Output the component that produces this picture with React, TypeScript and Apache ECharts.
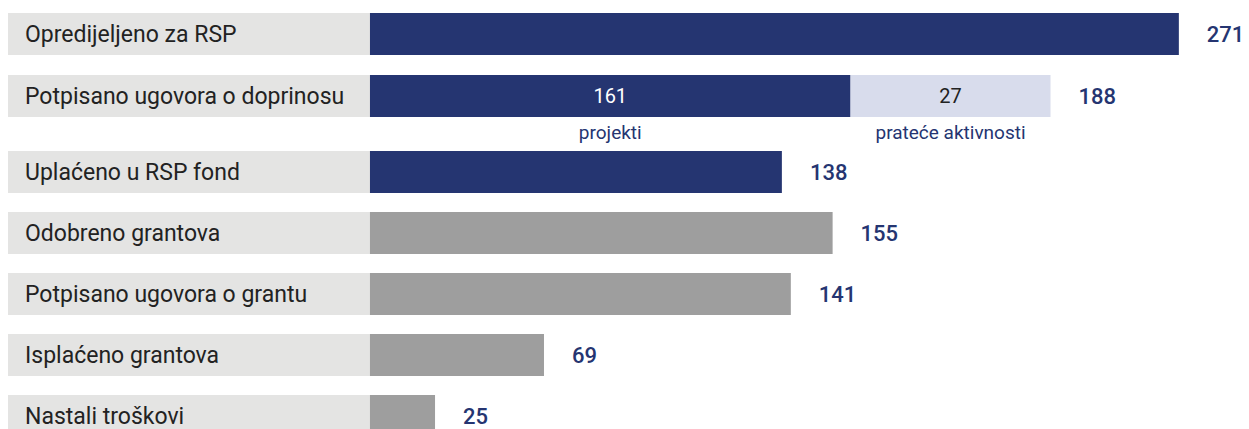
import React, { useEffect, useRef } from "react";
import * as echarts from "echarts";

// ---------- data ----------
const categories = [
  "Opredijeljeno za RSP",
  "Potpisano ugovora o doprinosu",
  "Uplaćeno u RSP fond",
  "Odobreno grantova",
  "Potpisano ugovora o grantu",
  "Isplaćeno grantova",
  "Nastali troškovi",
];
// numbers printed at the end of each row
const valueLabels = [271, 188, 138, 155, 141, 69, 25];
// bar lengths as drawn in the picture
const mainLength = [271, 161, 138, 155, 141, 58.3, 21.8];
const extraLength: (number | null)[] = [null, 67, null, null, null, null, null];
// split row (contribution contracts)
const splitRow = 1;
const splitValues = [161, 27];
const splitNames = ["projekti", "prateće aktivnosti"];
const rowGroup = ["rsp", "rsp", "rsp", "grant", "grant", "grant", "grant"];

// ---------- styles ----------
const NAVY = "#253571";
const GRAY = "#9e9e9e";
const LIGHT = "#d8dcec";
const BG = "#e4e4e3";
const FONT = "Roboto, 'Noto Sans', sans-serif";
const groupColor: Record<string, string> = { rsp: NAVY, grant: GRAY };
const LABEL_SPAN = -121.27; // grey label stripe, in axis units left of zero
const X_MIN = -121.27;
const X_MAX = 294.5;

const gridRows: [number, number][] = [
  [0, 2],
  [2, 7],
];
const gridPos = [
  { top: 3, height: 124 },
  { top: 141.5, height: 305 },
];

function range(s: number, e: number) {
  const r: number[] = [];
  for (let i = s; i < e; i++) r.push(i);
  return r;
}

function seriesFor(g: number, s: number, e: number) {
  const idx = range(s, e);
  const common = {
    type: "bar",
    xAxisIndex: g,
    yAxisIndex: g,
    barWidth: 42,
    barGap: "-100%",
    silent: true,
  };
  return [
    {
      ...common,
      name: "bg" + g,
      data: idx.map(() => LABEL_SPAN),
      itemStyle: { color: BG },
      z: 1,
    },
    {
      ...common,
      name: "main" + g,
      stack: "v" + g,
      z: 2,
      data: idx.map((i) => ({
        value: mainLength[i],
        itemStyle: { color: groupColor[rowGroup[i]] },
        label:
          i === splitRow
            ? {
                show: true,
                position: "inside",
                formatter: String(splitValues[0]),
                color: "#ffffff",
                fontSize: 20,
                fontFamily: FONT,
              }
            : { show: false },
      })),
    },
    {
      ...common,
      name: "extra" + g,
      stack: "v" + g,
      z: 2,
      itemStyle: { color: LIGHT },
      data: idx.map((i) =>
        extraLength[i] == null
          ? null
          : {
              value: extraLength[i],
              label: {
                show: true,
                position: "inside",
                formatter: String(splitValues[1]),
                color: "#222222",
                fontSize: 20,
                fontFamily: FONT,
              },
            }
      ),
    },
    {
      ...common,
      name: "subA" + g,
      stack: "s" + g,
      z: 3,
      itemStyle: { color: "transparent" },
      data: idx.map((i) => (i === splitRow ? mainLength[i] : null)),
      label: {
        show: true,
        position: "bottom",
        distance: 6,
        formatter: splitNames[0],
        color: NAVY,
        fontSize: 19,
        fontFamily: FONT,
      },
    },
    {
      ...common,
      name: "subB" + g,
      stack: "s" + g,
      z: 3,
      itemStyle: { color: "transparent" },
      data: idx.map((i) => (i === splitRow ? extraLength[i] : null)),
      label: {
        show: true,
        position: "bottom",
        distance: 6,
        formatter: splitNames[1],
        color: NAVY,
        fontSize: 19,
        fontFamily: FONT,
      },
    },
    {
      ...common,
      name: "total" + g,
      z: 3,
      itemStyle: { color: "transparent" },
      data: idx.map((i) => mainLength[i] + (extraLength[i] ?? 0)),
      label: {
        show: true,
        position: "right",
        distance: 28,
        formatter: (p: any) => String(valueLabels[s + p.dataIndex]),
        color: NAVY,
        fontSize: 22,
        fontWeight: 500,
        fontFamily: FONT,
      },
    },
  ];
}

export default function App() {
  const ref = useRef<HTMLDivElement>(null);
  useEffect(() => {
    if (!ref.current) return;
    const chart = echarts.init(ref.current, undefined, { renderer: "svg" });
    const option = {
      animation: false,
      grid: gridPos.map((p) => ({ left: 8, right: 0, top: p.top, height: p.height })),
      xAxis: gridRows.map((_, g) => ({
        type: "value",
        gridIndex: g,
        min: X_MIN,
        max: X_MAX,
        show: false,
        splitLine: { show: false },
      })),
      yAxis: gridRows.map(([s, e], g) => ({
        type: "category",
        gridIndex: g,
        data: categories.slice(s, e),
        inverse: true,
        z: 10,
        axisLine: { show: false, onZero: false },
        axisTick: { show: false },
        splitLine: { show: false },
        axisLabel: {
          inside: true,
          margin: 17,
          color: "#222222",
          fontSize: 23,
          fontFamily: FONT,
        },
      })),
      series: gridRows.flatMap(([s, e], g) => seriesFor(g, s, e)),
    };
    chart.setOption(option as any);
    return () => chart.dispose();
  }, []);
  return (
    <div
      ref={ref}
      style={{ position: "fixed", left: 0, top: 0, width: 1249, height: 470, background: "#ffffff" }}
    />
  );
}
